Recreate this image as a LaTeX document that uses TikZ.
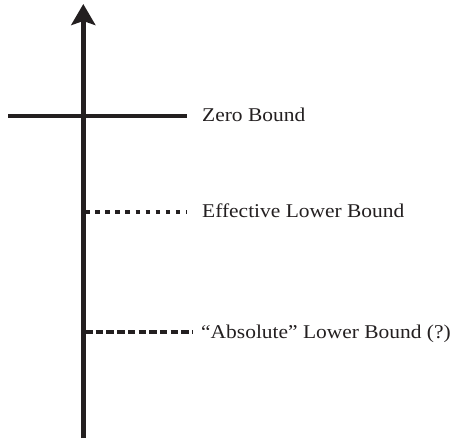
\documentclass[tikz,border=0pt]{standalone}
\usepackage{fontspec}
\setmainfont{Liberation Serif}[FakeStretch=1.1]
\usetikzlibrary{arrows.meta}
\definecolor{ink}{HTML}{231F20}
\tikzset{
  axisline/.style={draw=ink, line width=4.8pt},
  boundline/.style={draw=ink, line width=4.2pt},
  dotline/.style={draw=ink, line width=4.2pt, dash pattern=on 4.5pt off 5.6pt},
  dashline/.style={draw=ink, line width=4.2pt, dash pattern=on 7.5pt off 3.2pt},
  lbl/.style={anchor=base west, inner sep=0pt, text=ink, font=\fontsize{19.5}{22}\selectfont}
}
\begin{document}
\begin{tikzpicture}[x=1pt,y=-1pt]
\useasboundingbox (0,0) rectangle (454,443);
\coordinate (axbot) at (83.3,438);
\coordinate (axtop) at (83.3,4);
\draw[axisline, -{Stealth[length=21pt, width=24pt, inset=4pt]}] (axbot) -- (axtop);
% zero bound
\coordinate (zl) at (8,116);
\coordinate (zr) at (187,116);
\draw[boundline] (zl) -- (zr);
\node[lbl] (zero) at (202,122) {Zero Bound};
% effective lower bound
\coordinate (el) at (85,212);
\coordinate (er) at (187,212);
\draw[dotline] (el) -- (er);
\node[lbl] (eff) at (202,218) {Effective Lower Bound};
% absolute lower bound
\coordinate (al) at (85,332);
\coordinate (ar) at (193,332);
\draw[dashline] (al) -- (ar);
\node[lbl] (abs) at (201,338) {“Absolute” Lower Bound (?)};
\end{tikzpicture}
\end{document}
